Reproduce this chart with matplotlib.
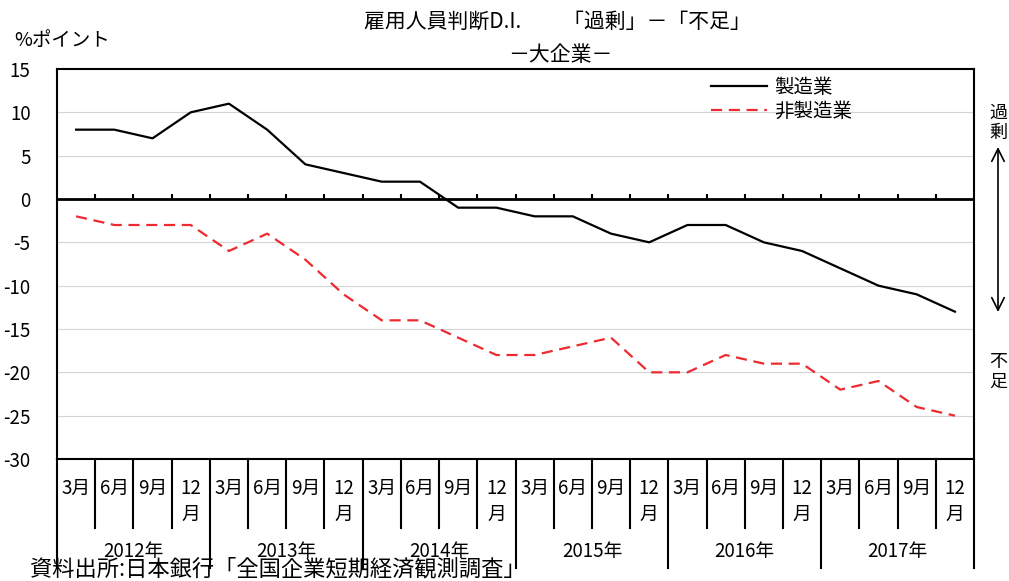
import numpy as np
import matplotlib
matplotlib.use("Agg")
import matplotlib.pyplot as plt

plt.rcParams['font.family'] = ['Noto Sans CJK JP', 'DejaVu Sans']

years = ["2012年", "2013年", "2014年", "2015年", "2016年", "2017年"]
months = ["3月", "6月", "9月", "12\n月"]
manufacturing = [8, 8, 7, 10, 11, 8, 4, 3, 2, 2, -1, -1,
                 -2, -2, -4, -5, -3, -3, -5, -6, -8, -10, -11, -13]
non_manufacturing = [-2, -3, -3, -3, -6, -4, -7, -11, -14, -14, -16, -18,
                     -18, -17, -16, -20, -20, -18, -19, -19, -22, -21, -24, -25]
yticks = [15, 10, 5, 0, -5, -10, -15, -20, -25, -30]

W, H = 1009, 581
fig = plt.figure(figsize=(W / 100, H / 100), dpi=100)
ax = fig.add_axes([57 / W, 1 - 459 / H, (974 - 57) / W, (459 - 69) / H])

n = len(manufacturing)
x = np.arange(n) + 0.5
ax.plot(x, manufacturing, color="black", lw=1.6, label="製造業", zorder=3)
ax.plot(x, non_manufacturing, color="#ee2a30", lw=1.6, dashes=(5, 3),
        label="非製造業", zorder=3)

ax.set_xlim(0, n)
ax.set_ylim(-30, 15)
ax.set_yticks(yticks)
ax.set_yticklabels([str(v) for v in yticks], fontsize=13.5)
ax.tick_params(axis="y", length=0, pad=19)
ax.set_xticks([])
for v in yticks:
    if v not in (15, 0, -30):
        ax.axhline(v, color="#d4d4d4", lw=0.8, zorder=1)
ax.axhline(0, color="black", lw=2.0, zorder=2)
# small tick marks on the zero line at quarter boundaries
ax.vlines(np.arange(1, n), 0, 0.6, color="black", lw=1.5, zorder=2)
for s in ax.spines.values():
    s.set_linewidth(1.5)

# category table below the axes
px = 1 / (459 - 69)
tr = ax.get_xaxis_transform()
for k in range(n + 1):
    bottom = -109 * px if k % 4 == 0 else -69 * px
    ax.plot([k, k], [0, bottom], color="black", lw=1.5, transform=tr,
            clip_on=False)
for i in range(n):
    lab = months[i % 4]
    if "\n" in lab:
        top, bot = lab.split("\n")
        ax.text(i + 0.5, -29 * px, top, transform=tr, ha="center",
                va="center", fontsize=13.5)
        ax.text(i + 0.5, -55 * px, bot, transform=tr, ha="center",
                va="center", fontsize=13.5)
    else:
        ax.text(i + 0.5, -29 * px, lab, transform=tr, ha="center",
                va="center", fontsize=13.5)
for j, yr in enumerate(years):
    ax.text(j * 4 + 2, -92 * px, yr, transform=tr, ha="center",
            va="center", fontsize=13.5)

ax.legend(loc="upper left", bbox_to_anchor=(711 / W, 1 - 77 / H),
          bbox_transform=fig.transFigure, frameon=False, fontsize=14,
          handlelength=2.9, handletextpad=0.35, labelspacing=0.15,
          borderpad=0, borderaxespad=0)

fig.text(557 / W, 1 - 22 / H, "雇用人員判断D.I.　　「過剰」－「不足」",
         ha="center", va="center", fontsize=15)
fig.text(560 / W, 1 - 55 / H, "－大企業－", ha="center", va="center",
         fontsize=15)
fig.text(14 / W, 1 - 40 / H, "%ポイント", ha="left", va="center",
         fontsize=14)

fig.text(998 / W, 1 - 123 / H, "過\n剰", ha="center", va="center",
         fontsize=13, linespacing=1.15)
fig.text(998 / W, 1 - 372 / H, "不\n足", ha="center", va="center",
         fontsize=13, linespacing=1.15)
fig.patches.append(matplotlib.patches.FancyArrowPatch(
    (998 / W, 1 - 312 / H), (998 / W, 1 - 147 / H),
    transform=fig.transFigure, arrowstyle="<->,head_length=9,head_width=4.5",
    color="black", lw=1.2, shrinkA=0, shrinkB=0))

fig.text(30 / W, 1 - 569 / H, "資料出所:日本銀行「全国企業短期経済観測調査」",
         ha="left", va="center", fontsize=16)

fig.savefig("out.png", dpi=100)
